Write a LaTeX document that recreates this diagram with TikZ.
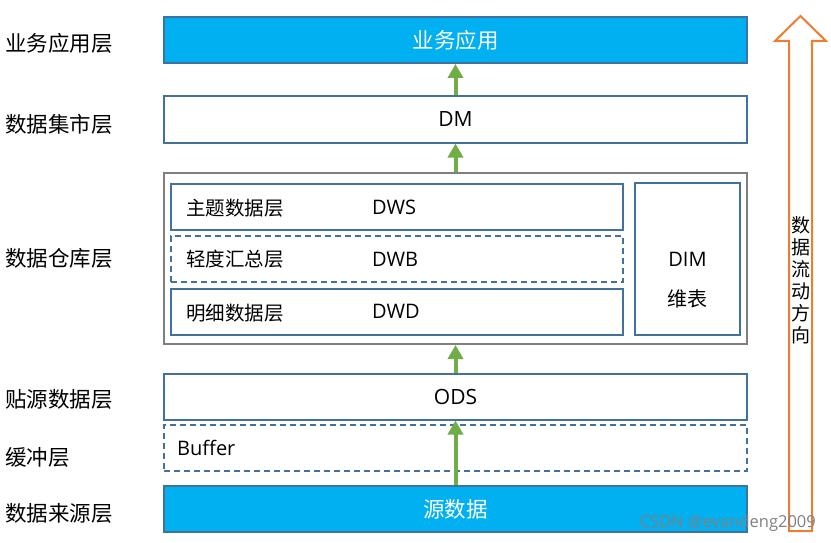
\documentclass[tikz,border=0pt]{standalone}
\usepackage{fontspec}
\setmainfont{Open Sans}
\newfontfamily\cjk{Noto Sans CJK SC}
\usetikzlibrary{arrows.meta}
\definecolor{boxblue}{HTML}{41719C}
\definecolor{skyfill}{HTML}{00B0F0}
\definecolor{wallgray}{HTML}{7F7F7F}
\definecolor{flowgreen}{HTML}{70AD47}
\definecolor{dirorange}{HTML}{ED7D31}
\tikzset{
  layer/.style={draw=boxblue, line width=2pt, minimum width=583pt, minimum height=46pt, inner sep=0pt,
    font=\fontsize{21}{25}\selectfont},
  srclayer/.style={layer, fill=skyfill, text=white, font=\cjk\fontsize{21.5}{25}\selectfont},
  sublayer/.style={draw=boxblue, line width=2pt, minimum width=452pt, minimum height=46pt, inner sep=0pt},
  dashlayer/.style={dashed, dash pattern=on 6pt off 4pt},
  flow/.style={draw=flowgreen, line width=4pt, -{Triangle[width=15pt,length=14pt]}},
  lbl/.style={anchor=west, inner sep=0pt, font=\cjk\fontsize{21.5}{25}\selectfont},
  sublbl/.style={anchor=west, inner sep=0pt, font=\cjk\fontsize{19.5}{23}\selectfont},
  code/.style={anchor=west, inner sep=0pt, font=\fontsize{20}{24}\selectfont},
}

\begin{document}
\begin{tikzpicture}[x=1pt,y=-1pt]
  \useasboundingbox (0,0) rectangle (831,543);
  \foreach \y/\t [count=\i] in {43/业务应用层, 124/数据集市层, 258/数据仓库层, 399/贴源数据层, 457/缓冲层, 513/数据来源层}
    \node[lbl] (name\i) at (5,\y) {\t};
  % layers
  \node[srclayer] (app) at (455.5,40) {业务应用};
  \node[layer] (dm) at (455.5,119.5) {DM};
  \node[layer, draw=wallgray, minimum height=171pt] (dw) at (455.5,258.5) {};
  \node[sublayer] (dws) at (397,206.5) {};
  \node[sublayer, dashlayer] (dwb) at (397,259) {};
  \node[sublayer] (dwd) at (397,311.5) {};
  \node[sublayer, minimum width=105pt, minimum height=152pt] (dim) at (687.5,259) {};
  \node[layer] (ods) at (455.5,396.5) {ODS};
  \node[layer, dashlayer] (buf) at (455.5,448) {};
  \node[srclayer] (src) at (455.5,509) {源数据};
  % texts inside
  \node[sublbl] (dwsname) at (186,208) {主题数据层};
  \node[sublbl] (dwbname) at (186,259) {轻度汇总层};
  \node[sublbl] (dwdname) at (186,313) {明细数据层};
  \node[code] (dwscode) at (372,207) {DWS};
  \node[code] (dwbcode) at (372,259) {DWB};
  \node[code] (dwdcode) at (372,311) {DWD};
  \node[font=\fontsize{20}{24}\selectfont, inner sep=0pt] (dimcode) at (687.5,259) {DIM};
  \node[font=\cjk\fontsize{20}{24}\selectfont, inner sep=0pt] (dimname) at (687.5,299) {维表};
  \node[code] (bufcode) at (177,448) {Buffer};
  % flow
  \draw[flow] (dm.north) -- (app.south);
  \draw[flow] (dw.north) -- (dm.south);
  \draw[flow] (ods.north) -- (dw.south);
  \draw[flow] (src.north) -- (ods.south);
  % direction
  \draw[dirorange, line width=2pt, fill=white]
    (789,531) -- (789,41) -- (775,41) -- (800.5,16) -- (826,41) -- (812,41) -- (812,531) -- cycle;
  \node[align=center, inner sep=0pt, font=\cjk\fontsize{19}{22}\selectfont] (dir) at (800.5,280)
    {数\\据\\流\\动\\方\\向};
  \node[anchor=east, inner sep=0pt, text=gray, font=\fontsize{16.5}{19}\selectfont] (mark) at (816,523)
    {CSDN @evandeng2009};
\end{tikzpicture}
\end{document}
